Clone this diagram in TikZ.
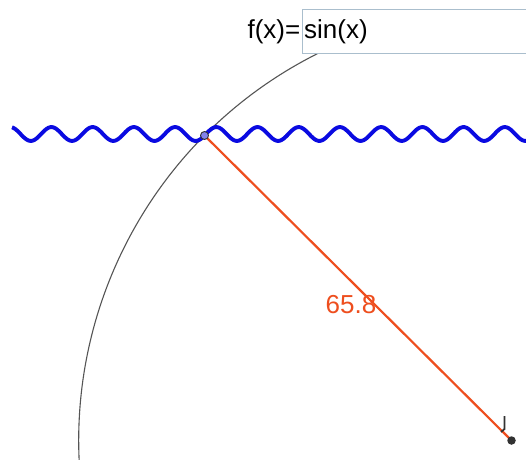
\documentclass[tikz,border=0pt]{standalone}
\usepackage{fontspec}
\setmainfont{Liberation Sans}
\definecolor{wave}{RGB}{10,10,225}
\definecolor{seg}{RGB}{238,78,30}
\definecolor{arcc}{RGB}{85,85,85}
\definecolor{boxb}{RGB}{170,190,205}
\definecolor{ptfill}{RGB}{130,130,235}
\definecolor{dark}{RGB}{50,50,50}
\tikzset{
  wavestyle/.style={draw=wave, line width=3.9pt, line join=round},
  segstyle/.style={draw=seg, line width=2.2pt},
  arcstyle/.style={draw=arcc, line width=1.1pt},
  lbl/.style={font=\fontsize{26}{26}\selectfont, inner sep=0pt},
}
\begin{document}
\begin{tikzpicture}[x=1pt,y=1pt]
\useasboundingbox (0,0) rectangle (526,459);
\clip (0,0) rectangle (526,459);
\fill[white] (0,0) rectangle (526,459);
\coordinate (A) at (204.5,323.5);
\coordinate (B) at (511.5,18.5);
% arc of the circle centred at B through A
\draw[arcstyle] (B) ++(116:432.8) arc[start angle=116, end angle=186, radius=432.8];
% sine curve
\draw[wavestyle] plot[domain=12:530, samples=500, smooth] (\x, {325 + 6.9*sin(deg((\x-206)/6.56))});
% segment
\draw[segstyle] (A) -- (B);
\node[lbl, text=seg] (len) at (351,154) {65.8};
% point A
\node[circle, draw=dark, fill=ptfill, line width=0.9pt, minimum size=8pt, inner sep=0pt] (Apt) at (A) {};
% point B
\node[circle, fill=dark, minimum size=8.5pt, inner sep=0pt] (Bpt) at (B) {};
% cursor hook
\draw[dark, line width=1.8pt] (504.5,43) -- (504.5,30) -- (501,27);
% input box
\draw[boxb, fill=white, line width=1pt] (302.5,449) rectangle (540,406);
\node[lbl, anchor=east] (fx) at (300.5,427.5) {f(x)=};
\node[lbl, anchor=west] (sinx) at (304,427.5) {sin(x)};
\end{tikzpicture}
\end{document}
